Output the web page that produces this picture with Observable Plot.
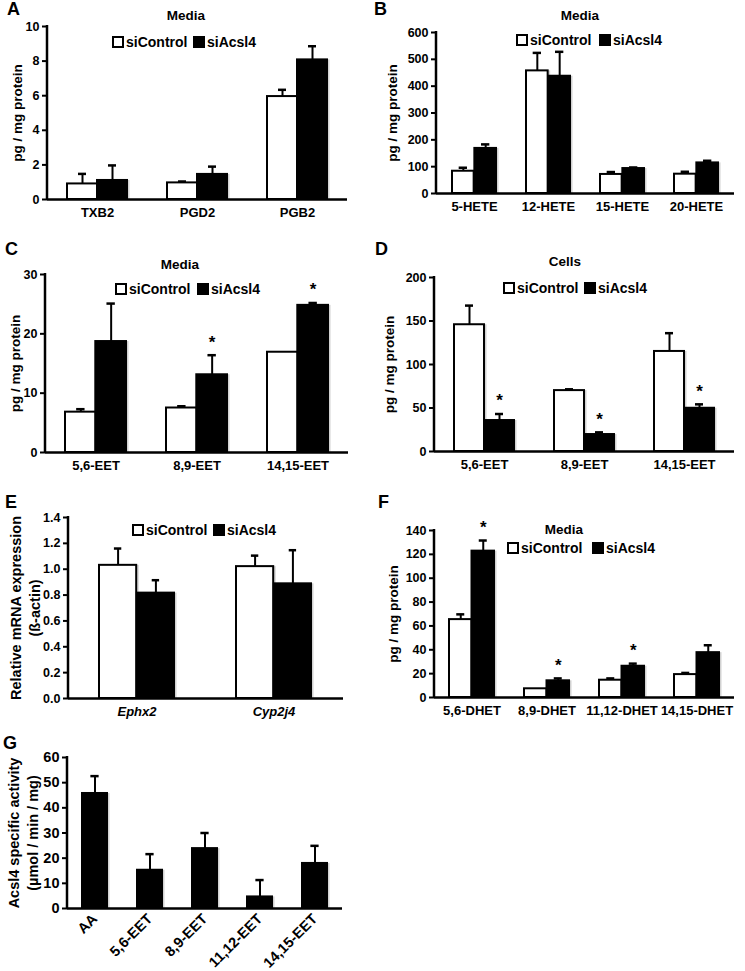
<!DOCTYPE html>
<html><head><meta charset="utf-8">
<script src="https://cdn.jsdelivr.net/npm/d3@7"></script>
<script src="https://cdn.jsdelivr.net/npm/@observablehq/plot@0.6"></script>
<style>
body{margin:0;background:#fff;}
#fig{position:relative;width:745px;height:971px;overflow:hidden;font-family:"Liberation Sans",Arial,sans-serif;font-weight:bold;color:#000;}
.abs{position:absolute;white-space:nowrap;line-height:1;}
.letter{font-size:18px;transform:translateY(-50%);}
.title{font-size:13.5px;transform:translate(-50%,-50%);}
.leg{font-size:14px;display:flex;align-items:center;transform:translateY(-50%);}
.sw{display:inline-block;width:8px;height:8px;border:2px solid #000;margin-right:2px;}
</style></head><body><div id="fig"></div>
<script>
// ---------- data ----------
const seriesNames = ["siControl", "siAcsl4"];

const catsA = ["TXB2", "PGD2", "PGB2"];
const ctrlA = [0.9, 0.96, 5.95];
const ctrlSdA = [0.58, 0.08, 0.39];
const acslA = [1.1, 1.45, 8.07];
const acslSdA = [0.87, 0.45, 0.79];
const ticksA = [0, 2, 4, 6, 8, 10];

const catsB = ["5-HETE", "12-HETE", "15-HETE", "20-HETE"];
const ctrlB = [83, 457, 71, 72];
const ctrlSdB = [13, 67, 9, 9];
const acslB = [168, 437, 93, 114];
const acslSdB = [15, 91, 4, 8];
const ticksB = [0, 100, 200, 300, 400, 500, 600];

const catsC = ["5,6-EET", "8,9-EET", "14,15-EET"];
const ctrlC = [6.8, 7.5, 16.9];
const ctrlSdC = [0.5, 0.3, 0];
const acslC = [18.7, 13.1, 24.8];
const acslSdC = [6.4, 3.3, 0.4];
const starC = [false, true, true];
const ticksC = [0, 10, 20, 30];

const catsD = ["5,6-EET", "8,9-EET", "14,15-EET"];
const ctrlD = [145.7, 70, 115];
const ctrlSdD = [22, 1.5, 21];
const acslD = [35.6, 19.5, 49.7];
const acslSdD = [7.5, 2.5, 4.5];
const starD = [true, true, true];
const ticksD = [0, 50, 100, 150, 200];

const catsE = ["Ephx2", "Cyp2j4"];
const ctrlE = [1.03, 1.02];
const ctrlSdE = [0.13, 0.085];
const acslE = [0.815, 0.887];
const acslSdE = [0.10, 0.26];
const ticksE = [0, 0.2, 0.4, 0.6, 0.8, 1.0, 1.2, 1.4];

const catsF = ["5,6-DHET", "8,9-DHET", "11,12-DHET", "14,15-DHET"];
const ctrlF = [65.3, 7.3, 14.5, 19.2];
const ctrlSdF = [4.4, 0, 1.5, 1.4];
const acslF = [122.7, 14, 26.2, 37.6];
const acslSdF = [8.9, 2, 2.2, 6.2];
const starF = [true, true, true, false];
const ticksF = [0, 20, 40, 60, 80, 100, 120, 140];

const catsG = ["AA", "5,6-EET", "8,9-EET", "11,12-EET", "14,15-EET"];
const valG = [45.7, 15.2, 23.8, 4.6, 17.9];
const sdG = [6.9, 6.4, 6.2, 6.7, 7.0];
const ticksG = [0, 10, 20, 30, 40, 50, 60];

// ---------- helpers ----------
const fig = document.getElementById("fig");
function addDiv(cls, html, left, top) {
  const d = document.createElement("div");
  d.className = "abs " + cls;
  d.innerHTML = html;
  d.style.left = left + "px";
  d.style.top = top + "px";
  fig.appendChild(d);
  return d;
}
function legendItem(name, fill, left, top) {
  addDiv("leg", `<span class="sw" style="background:${fill}"></span>${name}`, left, top);
}

function panel(p) {
  const nC = p.cats.length, nS = p.series.length;
  const fw = p.width - p.mL - p.mR;
  const step = fw / nC;
  const bw = step * (1 - p.pad);
  const sub = bw / nS;
  const tickFs = p.tickFs || 12.5, xFs = p.xFs || 13, labFs = p.labFs || 13.5;
  const marks = [];
  // soft drop shadows
  p.series.forEach((s, k) => {
    const data = p.cats.map((c, i) => ({cat: c, v: s.values[i]}));
    marks.push(Plot.barY(data, {x: "cat", y: "v", fill: "#9a9a9a", fillOpacity: 0.45, dx: 2.5, insetLeft: k * sub, insetRight: (nS - 1 - k) * sub}));
  });
  p.series.forEach((s, k) => {
    const data = p.cats.map((c, i) => ({cat: c, v: s.values[i], e: s.sd[i], star: s.stars ? s.stars[i] : false}));
    const cx = (k + 0.5) * sub;
    const withErr = data.filter(d => d.e > 0);
    marks.push(Plot.ruleX(withErr, {x: "cat", y1: "v", y2: d => d.v + d.e, dx: cx - bw / 2, stroke: "#000", strokeWidth: 2}));
    marks.push(Plot.tickY(withErr, {x: "cat", y: d => d.v + d.e, insetLeft: cx - p.cap / 2, insetRight: bw - cx - p.cap / 2, stroke: "#000", strokeWidth: 2.5}));
    marks.push(Plot.barY(data, {x: "cat", y: "v", fill: s.fill, stroke: "#000", strokeWidth: 2, insetLeft: k * sub, insetRight: (nS - 1 - k) * sub}));
    marks.push(Plot.text(data.filter(d => d.star), {x: "cat", y: d => d.v + d.e, text: () => "*", dx: cx - bw / 2, dy: -13, fontSize: 17}));
  });
  marks.push(Plot.ruleY([0], {stroke: "#000", strokeWidth: 2.5}));
  marks.push((index, scales, values, dim) => {
    const l = document.createElementNS("http://www.w3.org/2000/svg", "line");
    l.setAttribute("x1", dim.marginLeft); l.setAttribute("x2", dim.marginLeft);
    l.setAttribute("y1", dim.marginTop - 1); l.setAttribute("y2", dim.height - dim.marginBottom + 1);
    l.setAttribute("stroke", "#000"); l.setAttribute("stroke-width", 2.5);
    return l;
  });
  marks.push(Plot.axisY({ticks: p.ticks, tickSize: 5, tickPadding: 3, strokeWidth: 2, tickFormat: p.fmt || (d => String(d)), label: null, fontSize: tickFs}));
  marks.push(Plot.axisX({tickSize: 0, tickPadding: p.rotate ? 8 : 8, label: null, fontSize: xFs, fontStyle: p.italic ? "italic" : "normal", tickRotate: p.rotate || 0}));
  marks.push(Plot.text([p.ylabel], {frameAnchor: "left", textAnchor: "middle", lineAnchor: "middle", rotate: -90, dx: p.ldx, fontSize: labFs, lineHeight: 1.32}));
  const svg = Plot.plot({
    width: p.width, height: p.height,
    marginLeft: p.mL, marginRight: p.mR, marginTop: p.mT, marginBottom: p.mB,
    x: {type: "band", domain: p.cats, paddingInner: p.pad, paddingOuter: p.pad / 2},
    y: {domain: [0, p.ticks[p.ticks.length - 1]]},
    style: {fontFamily: "'Liberation Sans', Arial, sans-serif", fontWeight: "bold", fontSize: "13px", color: "#000", background: "transparent", overflow: "visible"},
    marks
  });
  svg.style.position = "absolute";
  svg.style.left = p.left + "px";
  svg.style.top = p.top + "px";
  fig.appendChild(svg);
}

const two = (c, cs, a, as, st) => [
  {values: c, sd: cs, fill: "#fff"},
  {values: a, sd: as, fill: "#000", stars: st}
];

// ---------- panels ----------
panel({left: 0, top: 0, width: 372, height: 235, mL: 47, mR: 25, mT: 26, mB: 36, cats: catsA, ticks: ticksA,
  series: two(ctrlA, ctrlSdA, acslA, acslSdA), pad: 0.4, cap: 8, ylabel: "pg / mg protein", ldx: -31});
panel({left: 372, top: 0, width: 373, height: 235, mL: 64, mR: 11, mT: 32, mB: 42, cats: catsB, ticks: ticksB,
  series: two(ctrlB, ctrlSdB, acslB, acslSdB), pad: 0.4, cap: 9, ylabel: "pg / mg protein", ldx: -45});
panel({left: 0, top: 235, width: 372, height: 250, mL: 45, mR: 24, mT: 39, mB: 33, cats: catsC, ticks: ticksC,
  series: two(ctrlC, ctrlSdC, acslC, acslSdC, starC), pad: 0.4, cap: 8, ylabel: "pg / mg protein", ldx: -31});
panel({left: 372, top: 235, width: 373, height: 250, mL: 62, mR: 11, mT: 42, mB: 34, cats: catsD, ticks: ticksD,
  series: two(ctrlD, ctrlSdD, acslD, acslSdD, starD), pad: 0.4, cap: 8, ylabel: "pg / mg protein", ldx: -46});
panel({left: 0, top: 485, width: 372, height: 240, mL: 68, mR: 29, mT: 32, mB: 27, cats: catsE, ticks: ticksE,
  series: two(ctrlE, ctrlSdE, acslE, acslSdE), pad: 0.45, cap: 8, italic: true, fmt: d3.format(".1f"),
  ylabel: "Relative mRNA expression\n(ß-actin)", ldx: -44, labFs: 14.5});
panel({left: 372, top: 485, width: 373, height: 240, mL: 62, mR: 11, mT: 45, mB: 28, cats: catsF, ticks: ticksF,
  series: two(ctrlF, ctrlSdF, acslF, acslSdF, starF), pad: 0.4, cap: 8, ylabel: "pg / mg protein", ldx: -42});
panel({left: 0, top: 725, width: 372, height: 246, mL: 67, mR: 30, mT: 32, mB: 63, cats: catsG, ticks: ticksG,
  series: [{values: valG, sd: sdG, fill: "#000"}], pad: 0.55, cap: 8, rotate: -45,
  ylabel: "Acsl4 specific activity\n(µmol / min / mg)", ldx: -45, tickFs: 14.5, xFs: 14.5, labFs: 14.5});

// ---------- letters, titles, legends ----------
addDiv("letter", "A", 7, 9);
addDiv("letter", "B", 374, 9);
addDiv("letter", "C", 5, 249);
addDiv("letter", "D", 375, 249);
addDiv("letter", "E", 5, 502);
addDiv("letter", "F", 378, 502);
addDiv("letter", "G", 3, 743);

addDiv("title", "Media", 186, 16);
addDiv("title", "Media", 580, 16);
addDiv("title", "Media", 180, 265);
addDiv("title", "Cells", 565, 262);
addDiv("title", "Media", 564, 530);

const legends = [[112, 193, 42], [516, 599, 40], [115, 197, 289], [503, 584, 288], [132, 213, 530], [507, 592, 548]];
legends.forEach(([x1, x2, y]) => {
  legendItem(seriesNames[0], "#fff", x1, y);
  legendItem(seriesNames[1], "#000", x2, y);
});
</script></body></html>
